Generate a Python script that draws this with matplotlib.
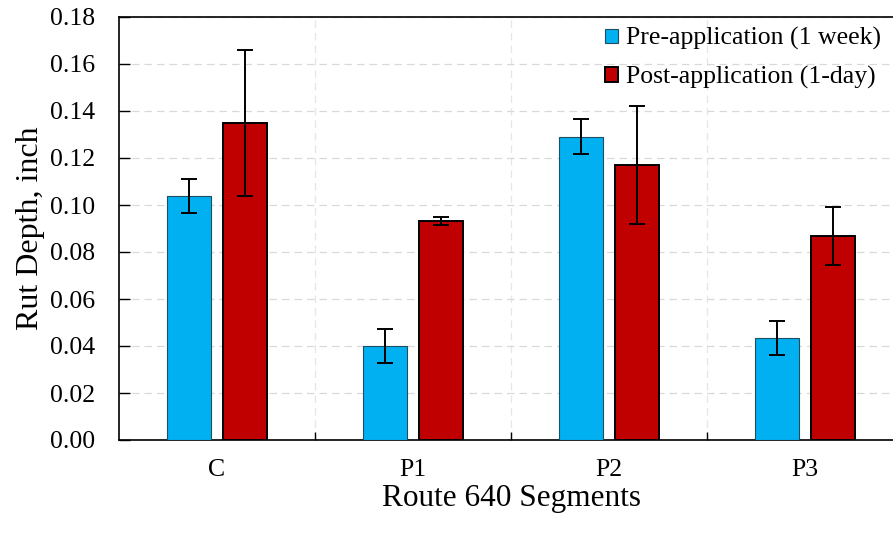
import numpy as np
import matplotlib
matplotlib.use("Agg")
import matplotlib.pyplot as plt
from matplotlib.ticker import MultipleLocator, FixedLocator, FormatStrFormatter

segments = ["C", "P1", "P2", "P3"]
pre_mean = [0.104, 0.040, 0.129, 0.0435]
pre_err = [0.0072, 0.0072, 0.0074, 0.0072]
post_mean = [0.135, 0.0933, 0.117, 0.0868]
post_err = [0.031, 0.0017, 0.025, 0.0125]

plt.rcParams["font.family"] = ["Liberation Serif", "DejaVu Serif"]

fig = plt.figure(figsize=(8.93, 5.33), dpi=100)
# right spine sits just past the figure edge
ax = fig.add_axes([119 / 893, 1 - 440 / 533, 784 / 893, 423 / 533])

x = np.arange(len(segments))
w = 0.225
off = 0.143
ekw = dict(ecolor="black", elinewidth=1.4, capsize=6, capthick=1.4)
ax.bar(x - off, pre_mean, w, yerr=pre_err, color="#00B0F0",
       edgecolor="#1f4e5f", linewidth=0.8, error_kw=ekw,
       label="Pre-application (1 week)", zorder=3)
ax.bar(x + off, post_mean, w, yerr=post_err, color="#C00000",
       edgecolor="black", linewidth=1.4, error_kw=ekw,
       label="Post-application (1-day)", zorder=3)

ax.set_xlim(-0.5, len(segments) - 0.5)
ax.set_ylim(0, 0.18)
ax.yaxis.set_major_locator(MultipleLocator(0.02))
ax.yaxis.set_major_formatter(FormatStrFormatter("%.2f"))
ax.set_xticks(x)
ax.set_xticklabels(segments)
ax.xaxis.set_minor_locator(FixedLocator(np.arange(0.5, len(segments) - 0.5, 1)))
ax.tick_params(axis="x", which="major", length=0, pad=14, labelsize=18.5)
ax.tick_params(axis="x", which="minor", direction="in", length=6, width=1)
ax.tick_params(axis="y", direction="in", length=8, width=1, labelsize=18.5, pad=17)
ax.grid(axis="y", which="major", color="#d9d9d9", ls=(0, (6, 4)), lw=0.9, zorder=0)
ax.grid(axis="x", which="minor", color="#e6e6e6", ls=(0, (6, 4)), lw=0.9, zorder=0)
for s in ax.spines.values():
    s.set_linewidth(1.2)

ax.set_ylabel("Rut Depth, inch", fontsize=23, labelpad=4)
ax.set_xlabel("Route 640 Segments", fontsize=22.5, labelpad=2)

ax.legend(loc="upper right", bbox_to_anchor=(772 / 784, 1.0), frameon=False,
          fontsize=18.5, handlelength=0.5, handleheight=0.5, handletextpad=0.3,
          labelspacing=0.6, borderaxespad=0.0)

fig.savefig("out.png", dpi=100)
